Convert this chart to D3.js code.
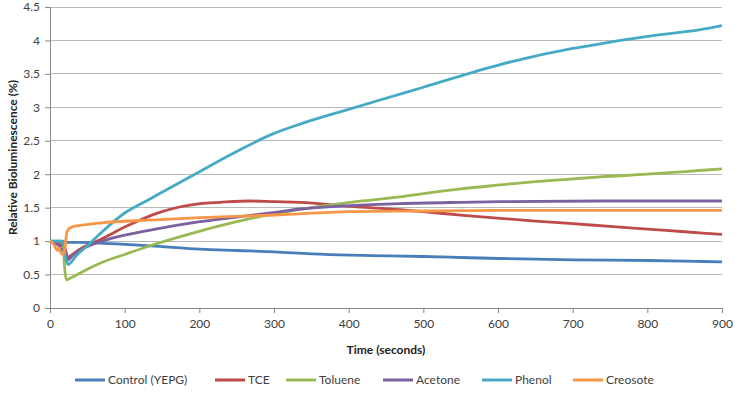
<!DOCTYPE html>
<html>
<head>
<meta charset="utf-8">
<script src="https://d3js.org/d3.v7.min.js"></script>
<style>
 body { margin: 0; background: #fff; }
 svg { font-family: Lato, "Open Sans", sans-serif; }
 .tick text { fill: #404040; font-size: 12px; }
</style>
</head>
<body>
<svg id="chart"></svg>
<script>
// values (time in seconds, relative bioluminescence)
var seriesNames = ["Control (YEPG)", "TCE", "Toluene", "Acetone", "Phenol", "Creosote"];
var seriesColors = ["#4a7ebb", "#be4b48", "#98b954", "#7d60a0", "#46aac5", "#f79646"];

var controlT = [0, 10, 20, 40, 67, 100, 134, 201, 250, 301, 350, 402, 450, 500, 550, 603, 650, 700, 750, 800, 850, 900];
var controlV = [1.0, 0.99, 0.98, 0.98, 0.97, 0.95, 0.93, 0.88, 0.86, 0.84, 0.81, 0.79, 0.78, 0.77, 0.755, 0.74, 0.73, 0.72, 0.715, 0.71, 0.70, 0.69];

var tceT = [0, 10, 15, 18, 21, 24, 30, 40, 50, 67, 100, 147, 201, 228, 268, 301, 335, 402, 469, 500, 550, 603, 650, 700, 750, 800, 850, 900];
var tceV = [1.0, 0.97, 0.93, 1.0, 0.85, 0.76, 0.8, 0.88, 0.94, 1.02, 1.21, 1.43, 1.56, 1.58, 1.6, 1.59, 1.58, 1.52, 1.47, 1.44, 1.39, 1.34, 1.3, 1.26, 1.22, 1.18, 1.14, 1.1];

var tolueneT = [0, 17, 20, 22, 26, 40, 67, 100, 134, 201, 250, 301, 350, 402, 469, 500, 550, 603, 650, 700, 737, 800, 850, 900];
var tolueneV = [1.0, 1.0, 0.55, 0.42, 0.44, 0.52, 0.67, 0.8, 0.93, 1.15, 1.29, 1.41, 1.5, 1.58, 1.66, 1.71, 1.78, 1.84, 1.89, 1.93, 1.96, 2.0, 2.04, 2.08];

var acetoneT = [0, 10, 15, 20, 24, 30, 40, 50, 67, 100, 147, 201, 228, 301, 335, 402, 469, 550, 603, 737, 900];
var acetoneV = [1.0, 0.95, 0.88, 0.85, 0.72, 0.78, 0.86, 0.92, 0.99, 1.09, 1.19, 1.29, 1.33, 1.43, 1.48, 1.53, 1.56, 1.58, 1.59, 1.6, 1.6];

var phenolT = [0, 15, 18, 21, 24, 28, 35, 50, 67, 100, 129, 150, 194, 250, 300, 335, 400, 442, 500, 603, 700, 737, 800, 871, 900];
var phenolV = [1.0, 1.0, 0.95, 0.75, 0.65, 0.68, 0.78, 0.93, 1.11, 1.42, 1.6, 1.73, 2.0, 2.34, 2.61, 2.75, 2.97, 3.11, 3.3, 3.64, 3.88, 3.95, 4.06, 4.16, 4.22];

var creosoteT = [0, 5, 10, 12, 15, 18, 20, 23, 29, 51, 67, 147, 201, 301, 402, 500, 603, 700, 800, 900];
var creosoteV = [1.0, 0.95, 0.86, 0.9, 0.82, 0.8, 0.9, 1.15, 1.21, 1.25, 1.27, 1.32, 1.35, 1.39, 1.44, 1.45, 1.46, 1.46, 1.46, 1.46];

var xTicks = [0, 100, 200, 300, 400, 500, 600, 700, 800, 900];
var yTicks = [0, 0.5, 1, 1.5, 2, 2.5, 3, 3.5, 4, 4.5];

var allT = [controlT, tceT, tolueneT, acetoneT, phenolT, creosoteT];
var allV = [controlV, tceV, tolueneV, acetoneV, phenolV, creosoteV];

var W = 735, H = 396;
var margin = {top: 7, right: 13, bottom: 88, left: 50};
var width = W - margin.left - margin.right,
    height = H - margin.top - margin.bottom;

var svg = d3.select("#chart").attr("width", W).attr("height", H);
var g = svg.append("g").attr("transform", "translate(" + margin.left + "," + margin.top + ")");

var x = d3.scaleLinear().domain([0, 900]).range([0, width]);
var y = d3.scaleLinear().domain([0, 4.5]).range([height, 0]);

// horizontal gridlines
g.selectAll(".grid")
  .data(yTicks.filter(function(d) { return d > 0; }))
  .enter().append("line")
  .attr("x1", 0).attr("x2", width)
  .attr("y1", function(d) { return y(d); })
  .attr("y2", function(d) { return y(d); })
  .attr("stroke", "#b9b9b9").attr("stroke-width", 1)
  .attr("shape-rendering", "crispEdges");

var xAxis = g.append("g")
  .attr("transform", "translate(0," + height + ")")
  .call(d3.axisBottom(x).tickValues(xTicks).tickSize(5).tickPadding(6).tickFormat(d3.format("d")));
var yAxis = g.append("g")
  .call(d3.axisLeft(y).tickValues(yTicks).tickSize(5).tickPadding(4).tickFormat(function(d) { return d; }));
[xAxis, yAxis].forEach(function(a) {
  a.select(".domain").attr("stroke", "#868686");
  a.selectAll(".tick line").attr("stroke", "#868686");
  a.attr("font-family", null).attr("font-size", null);
});
yAxis.selectAll(".tick text").attr("dx", "-1");

var line = d3.line()
  .x(function(d) { return x(d[0]); })
  .y(function(d) { return y(d[1]); })
  .curve(d3.curveMonotoneX);

seriesNames.forEach(function(name, i) {
  var pts = allT[i].map(function(t, j) { return [t, allV[i][j]]; });
  g.append("path")
    .datum(pts)
    .attr("fill", "none")
    .attr("stroke", seriesColors[i])
    .attr("stroke-width", 2.8)
    .attr("stroke-linejoin", "round")
    .attr("d", line);
});

// axis titles
svg.append("text")
  .attr("x", margin.left + width / 2).attr("y", 354)
  .attr("text-anchor", "middle")
  .attr("font-size", "12px").attr("font-weight", "bold").attr("fill", "#222")
  .text("Time (seconds)");
svg.append("text")
  .attr("transform", "translate(17," + (margin.top + height / 2) + ") rotate(-90)")
  .attr("text-anchor", "middle")
  .attr("font-size", "12px").attr("font-weight", "bold").attr("fill", "#222")
  .text("Relative Bioluminescence (%)");

// legend
var legendX = [75, 215, 286, 383, 482, 573];
var legend = svg.selectAll(".legend")
  .data(seriesNames)
  .enter().append("g")
  .attr("transform", function(d, i) { return "translate(" + legendX[i] + ",380)"; });
legend.append("line")
  .attr("x1", 0).attr("x2", 30)
  .attr("stroke", function(d, i) { return seriesColors[i]; })
  .attr("stroke-width", 3);
legend.append("text")
  .attr("x", 33).attr("dy", "0.35em")
  .attr("font-size", "12px").attr("fill", "#404040")
  .text(function(d) { return d; });
</script>
</body>
</html>
